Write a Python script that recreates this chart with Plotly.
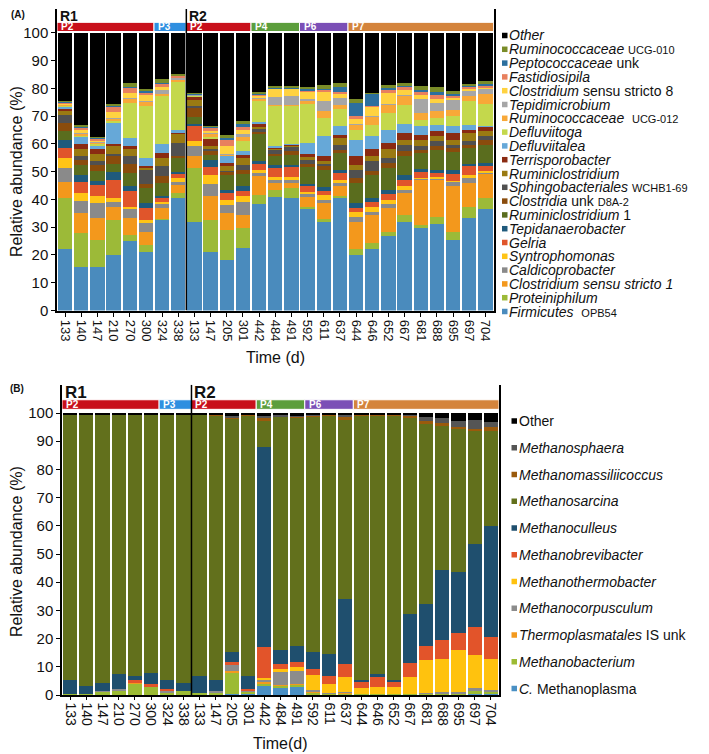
import plotly.graph_objects as go

# ---------------- data ----------------
sample_labels = ["133", "140", "147", "210", "270", "300", "324", "338",
                 "133", "147", "205", "301", "442", "484", "491", "592", "611", "637",
                 "644", "646", "652", "667", "681", "688", "695", "697", "704"]
n_r1 = 8  # samples belonging to reactor R1

phase_names = ["P2", "P3", "P2", "P4", "P6", "P7"]
phase_first = [0, 6, 8, 12, 15, 18]
phase_last = [5, 7, 11, 14, 17, 26]
phase_colors = {"P2": "#c8101a", "P3": "#2f8fe0", "P4": "#5c9e3c", "P6": "#7b4fb6", "P7": "#d4843c"}

# Panel A (bacteria), bottom to top
firmicutes_opb54 = [22.2, 15.6, 15.6, 20.0, 25.2, 21.2, 32.6, 40.5, 32.0, 21.2, 18.2, 22.4, 38.4, 41.0, 40.7, 36.9, 31.7, 40.7, 20.0, 22.1, 26.9, 32.0, 29.6, 31.1, 25.4, 33.3, 36.5]
proteiniphilum = [18.3, 12.3, 9.8, 12.6, 2.0, 2.4, 0.5, 1.8, 19.3, 11.4, 10.8, 7.2, 3.2, 2.5, 3.4, 0.5, 1.2, 0.5, 2.1, 2.2, 1.5, 2.4, 1.2, 2.5, 3.0, 4.1, 4.0]
clostridium_ss1 = [5.9, 7.2, 7.9, 4.8, 6.1, 4.8, 3.7, 3.0, 4.2, 8.5, 6.1, 4.8, 6.7, 2.5, 2.0, 3.5, 5.8, 3.5, 9.9, 10.1, 8.4, 7.9, 16.3, 13.5, 16.3, 8.5, 9.0]
caldicoprobacter = [4.9, 4.2, 5.4, 1.8, 3.2, 3.0, 1.8, 1.0, 3.6, 4.5, 3.0, 4.8, 1.2, 1.0, 1.2, 1.0, 1.2, 1.2, 1.8, 1.2, 1.6, 1.2, 0.5, 0.5, 1.8, 1.8, 0.3]
syntrophomonas = [3.6, 3.0, 2.4, 1.2, 0.9, 1.2, 0.5, 1.5, 1.8, 3.3, 1.8, 1.9, 1.2, 1.0, 0.7, 0.8, 1.8, 1.2, 1.8, 1.8, 1.4, 1.2, 0.3, 0.4, 0.3, 1.2, 0.6]
gelria = [3.6, 4.0, 4.2, 6.7, 5.5, 4.2, 1.5, 1.7, 5.4, 2.7, 2.4, 1.8, 2.4, 3.5, 3.7, 2.0, 1.5, 2.4, 1.5, 1.8, 2.2, 2.4, 2.0, 1.5, 2.4, 3.0, 1.5]
tepidanaerobacter = [3.0, 2.5, 1.5, 2.7, 1.8, 1.8, 0.5, 0.5, 1.0, 2.7, 1.2, 2.0, 0.6, 1.0, 0.8, 1.0, 1.2, 1.2, 1.6, 1.2, 1.5, 1.8, 1.0, 1.2, 1.5, 1.0, 1.2]
ruminiclostridium_1 = [3.0, 3.5, 3.5, 3.0, 5.0, 5.5, 5.0, 5.0, 2.5, 1.8, 5.4, 4.2, 10.0, 3.0, 3.5, 6.0, 6.3, 6.0, 7.2, 8.5, 7.8, 6.6, 6.0, 7.2, 6.5, 5.6, 6.6]
clostridia_d8a2 = [3.0, 2.0, 2.0, 3.0, 3.0, 1.5, 2.5, 0.5, 3.0, 1.4, 1.0, 1.5, 0.5, 1.0, 1.5, 1.0, 1.5, 1.0, 1.8, 1.2, 1.8, 1.8, 1.0, 1.5, 1.2, 1.2, 1.8]
sphingobacteriales = [3.0, 1.5, 1.5, 0.5, 3.0, 5.0, 3.5, 4.8, 1.0, 0.6, 0.5, 1.8, 1.5, 1.5, 1.5, 1.5, 0.5, 1.8, 3.0, 3.6, 1.8, 2.4, 1.2, 1.5, 1.2, 1.2, 1.2]
ruminiclostridium = [1.7, 2.5, 2.5, 3.0, 2.5, 0.8, 3.0, 3.6, 2.0, 1.2, 1.5, 2.5, 0.5, 0.5, 0.5, 1.2, 1.0, 2.6, 1.8, 1.8, 3.2, 1.8, 2.4, 1.8, 1.9, 3.0, 1.8]
terrisporobacter = [0.3, 1.8, 2.0, 0.8, 1.0, 0.7, 1.5, 0.2, 1.2, 2.5, 1.2, 1.2, 0.8, 0.3, 0.2, 1.0, 1.8, 1.2, 3.0, 2.6, 2.2, 2.5, 1.8, 1.8, 2.5, 1.2, 1.8]
defluviitalea = [1.0, 2.4, 1.0, 7.5, 3.0, 3.0, 3.5, 1.0, 0.2, 0.3, 2.6, 1.5, 1.0, 0.3, 0.4, 3.9, 7.2, 3.0, 6.0, 4.6, 4.8, 3.0, 3.2, 2.4, 2.3, 1.7, 0.3]
defluviitoga = [0.3, 0.3, 0.5, 0.5, 12.5, 18.5, 17.5, 17.4, 0.2, 0.5, 0.3, 3.5, 7.3, 14.7, 13.7, 14.0, 6.6, 6.3, 3.6, 4.2, 6.0, 7.1, 2.2, 2.4, 3.6, 8.5, 7.8]
ruminococcaceae_ucg012 = [0.3, 0.8, 0.8, 1.0, 1.5, 1.5, 0.5, 0.5, 0.2, 1.0, 0.3, 1.5, 1.2, 0.2, 0.2, 1.5, 2.4, 1.3, 1.9, 3.0, 3.0, 3.3, 2.4, 2.4, 2.4, 2.0, 3.6]
tepidimicrobium = [0.2, 0.5, 0.3, 0.3, 0.3, 0.5, 1.5, 0.8, 0.1, 0.4, 0.2, 0.8, 0.3, 3.0, 3.3, 0.3, 3.6, 2.5, 0.3, 0.2, 0.2, 0.2, 5.0, 3.0, 3.6, 2.0, 1.8]
clostridium_ss8 = [0.2, 1.0, 0.5, 2.2, 2.0, 2.0, 1.0, 0.3, 0.1, 0.8, 2.6, 1.5, 0.5, 2.8, 2.5, 2.5, 3.5, 1.8, 1.7, 3.4, 4.2, 2.0, 1.5, 1.5, 0.5, 0.5, 0.3]
fastidiosipila = [0.4, 0.8, 0.5, 2.0, 1.7, 1.0, 1.0, 0.5, 0.1, 1.0, 2.4, 1.2, 0.5, 0.2, 0.3, 0.8, 0.8, 0.5, 0.9, 0.3, 1.2, 1.0, 1.0, 1.5, 1.0, 0.8, 1.0]
peptococcaceae_unk = [0.3, 0.4, 0.3, 0.4, 0.3, 0.4, 0.5, 0.2, 0.1, 0.3, 0.8, 1.2, 0.3, 0.2, 0.3, 0.3, 0.3, 1.8, 4.8, 4.2, 0.6, 0.4, 1.0, 1.0, 0.6, 0.3, 0.4]
ruminococcaceae_ucg010 = [0.2, 0.4, 0.4, 0.4, 1.5, 0.8, 1.4, 0.5, 0.3, 0.5, 1.0, 0.8, 0.6, 0.5, 0.6, 0.8, 1.4, 1.5, 1.5, 0.4, 1.0, 1.0, 1.4, 1.8, 1.0, 0.7, 1.0]
other_a = [24.6, 33.3, 37.4, 25.6, 18.0, 20.2, 16.5, 14.7, 21.7, 33.4, 36.7, 31.9, 21.3, 19.3, 19.0, 19.5, 18.7, 18.0, 23.8, 21.6, 18.7, 18.0, 19.0, 19.5, 21.0, 18.4, 17.5]

# Panel B (archaea), bottom to top
c_methanoplasma = [0, 0, 0, 0, 0, 0, 0, 0, 0, 0, 0.5, 0.2, 3.2, 2.5, 2.8, 0.3, 0.2, 0.2, 0, 0, 0, 0, 0.2, 0.2, 0.2, 0.3, 0.3]
methanobacterium = [0.5, 0.5, 1.2, 1.5, 4.0, 3.0, 1.0, 1.5, 0.8, 0.8, 7.7, 1.2, 1.0, 0.8, 1.0, 0.5, 0.3, 0.5, 0.2, 0.2, 0.2, 0.4, 0.3, 0.5, 0.5, 1.2, 1.0]
thermoplasmatales_is = [0, 0, 0, 0, 0.3, 0.2, 0, 0, 0, 0, 0.2, 0, 0.6, 0.2, 0.2, 0.2, 0, 0.2, 0, 0, 0, 0, 0, 0, 0, 0, 0]
methanocorpusculum = [0, 0, 0.3, 0.8, 0, 0, 0.5, 0, 0, 0.6, 2.2, 0.3, 0.6, 4.5, 4.5, 0.8, 0.1, 0.3, 0, 0, 0, 0, 0.3, 0.5, 0.5, 0.9, 0.5]
methanothermobacter = [0, 0, 0, 0, 0, 0, 0, 0, 0, 0, 0, 0, 0.5, 1.2, 1.6, 5.3, 3.3, 5.3, 2.2, 2.8, 2.8, 6.0, 11.5, 11.4, 14.8, 11.8, 10.9]
methanobrevibacter = [0, 0, 0, 0, 1.0, 0.6, 0.6, 0, 0, 0, 1.2, 0.6, 11.0, 1.7, 1.6, 2.0, 3.0, 4.5, 2.3, 3.5, 1.8, 5.1, 5.2, 6.9, 6.1, 9.8, 7.7]
methanoculleus = [4.8, 2.8, 2.7, 5.3, 1.6, 4.1, 3.1, 2.7, 6.1, 3.9, 3.3, 4.5, 70.9, 5.2, 5.6, 6.3, 7.7, 22.9, 0.6, 0.9, 0.5, 17.1, 14.7, 24.8, 21.5, 29.5, 39.5]
methanosarcina = [94.2, 96.2, 95.3, 91.9, 92.5, 91.6, 94.3, 95.3, 92.6, 94.0, 83.0, 92.5, 9.7, 82.6, 81.2, 83.5, 84.6, 63.7, 93.9, 91.8, 93.9, 70.0, 64.3, 51.5, 51.0, 40.2, 33.8]
methanomassiliicoccus = [0.2, 0.2, 0.2, 0.2, 0.2, 0.2, 0.2, 0.2, 0.2, 0.3, 0.5, 0.2, 0.7, 0.3, 0.3, 0.4, 0.2, 1.4, 0.3, 0.2, 0.3, 0.5, 0.6, 0.6, 0.6, 0.7, 1.2]
methanosphaera = [0, 0, 0, 0, 0, 0, 0, 0, 0, 0, 0.2, 0, 0.8, 0.2, 0.2, 0.1, 0.1, 0.2, 0.1, 0.1, 0.1, 0.3, 1.4, 1.8, 1.8, 3.2, 1.9]
other_b = [0.3, 0.3, 0.3, 0.3, 0.4, 0.3, 0.3, 0.3, 0.3, 0.4, 1.2, 0.5, 1.0, 0.8, 1.0, 0.6, 0.5, 0.8, 0.4, 0.5, 0.4, 0.6, 1.5, 1.8, 3.0, 2.4, 3.2]

series_a = [
    ("<i>Firmicutes</i>  <span style='font-size:11px'>OPB54</span>", "#4a8bbd", firmicutes_opb54),
    ("<i>Proteiniphilum</i>", "#9cba38", proteiniphilum),
    ("<i>Clostridium sensu stricto 1</i>", "#f3981c", clostridium_ss1),
    ("<i>Caldicoprobacter</i>", "#8a8a8a", caldicoprobacter),
    ("<i>Syntrophomonas</i>", "#ffc416", syntrophomonas),
    ("<i>Gelria</i>", "#e0552b", gelria),
    ("<i>Tepidanaerobacter</i>", "#1f5a7c", tepidanaerobacter),
    ("<i>Ruminiclostridium</i> 1", "#5a6d1e", ruminiclostridium_1),
    ("<i>Clostridia</i> unk <span style='font-size:11px'>D8A-2</span>", "#8a4c0c", clostridia_d8a2),
    ("<i>Sphingobacteriales</i> <span style='font-size:11px'>WCHB1-69</span>", "#505050", sphingobacteriales),
    ("<i>Ruminiclostridium</i>", "#9a7a12", ruminiclostridium),
    ("<i>Terrisporobacter</i>", "#8a2b12", terrisporobacter),
    ("<i>Defluviitalea</i>", "#66a8d8", defluviitalea),
    ("<i>Defluviitoga</i>", "#c4d84c", defluviitoga),
    ("<i>Ruminococcaceae</i>  <span style='font-size:11px'>UCG-012</span>", "#f8a838", ruminococcaceae_ucg012),
    ("<i>Tepidimicrobium</i>", "#a6a6a6", tepidimicrobium),
    ("<i>Clostridium</i> sensu stricto 8", "#ffd240", clostridium_ss8),
    ("<i>Fastidiosipila</i>", "#e8805e", fastidiosipila),
    ("<i>Peptococcaceae</i> unk", "#2c6f9e", peptococcaceae_unk),
    ("<i>Ruminococcaceae</i> <span style='font-size:11px'>UCG-010</span>", "#7a8c28", ruminococcaceae_ucg010),
    ("<i>Other</i>", "#000000", other_a),
]

series_b = [
    ("<i>C.</i> Methanoplasma", "#4a90c4", c_methanoplasma),
    ("<i>Methanobacterium</i>", "#9cbb34", methanobacterium),
    ("<i>Thermoplasmatales</i> IS unk", "#f39a1e", thermoplasmatales_is),
    ("<i>Methanocorpusculum</i>", "#8c8c8c", methanocorpusculum),
    ("<i>Methanothermobacter</i>", "#ffc20e", methanothermobacter),
    ("<i>Methanobrevibacter</i>", "#e2542a", methanobrevibacter),
    ("<i>Methanoculleus</i>", "#1f4f6e", methanoculleus),
    ("<i>Methanosarcina</i>", "#62701c", methanosarcina),
    ("<i>Methanomassiliicoccus</i>", "#9a5a0c", methanomassiliicoccus),
    ("<i>Methanosphaera</i>", "#555555", methanosphaera),
    ("Other", "#000000", other_b),
]

# ---------------- geometry helpers (page pixels -> paper) ----------------
OFF = 8                      # default body margin of the html page
W, H = 709 - OFF, 754 - OFF  # figure size
ML, MR, MT, MB = 49, 210, 1, 59
PW, PH = W - ML - MR, H - MT - MB


def fx(px):
    return (px - OFF - ML) / PW


def fy(py):
    return (H - MB - (py - OFF)) / PH


FONT = "Liberation Sans, Arial, Helvetica, sans-serif"
xs = list(range(len(sample_labels)))

fig = go.Figure()
for name, color, vals in series_a:
    fig.add_trace(go.Bar(x=xs, y=vals, name=name, marker=dict(color=color, line=dict(width=0)),
                         xaxis="x", yaxis="y", showlegend=False))
for name, color, vals in series_b:
    fig.add_trace(go.Bar(x=xs, y=vals, name=name, marker=dict(color=color, line=dict(width=0)),
                         xaxis="x2", yaxis="y2", showlegend=False))

axis_common = dict(showgrid=False, zeroline=False, showline=True, linecolor="black", linewidth=1.5,
                   ticks="outside", tickcolor="black", tickwidth=1.2)
xcommon = dict(axis_common, range=[-0.5, len(xs) - 0.5], tickvals=xs, ticktext=sample_labels,
               tickangle=90)
ycommon = dict(axis_common, tickvals=list(range(0, 101, 10)), ticklen=4, mirror=True,
               tickfont=dict(size=15, color="#111", family=FONT))

YTOP_A = 108.6
YTOP_B = 110
fig.update_layout(
    width=W, height=H, margin=dict(l=ML, r=MR, t=MT, b=MB),
    paper_bgcolor="white", plot_bgcolor="white",
    barmode="stack", bargap=0.12,
    font=dict(family=FONT, color="#111"),
    xaxis=dict(xcommon, domain=[0, fx(493.5)], anchor="y", ticklen=5,
               tickfont=dict(size=13, color="#111", family=FONT)),
    yaxis=dict(ycommon, range=[0, YTOP_A], domain=[fy(310.5), 1], anchor="x"),
    xaxis2=dict(xcommon, domain=[fx(62), 1], anchor="y2", ticklen=3,
                tickfont=dict(size=14, color="#111", family=FONT)),
    yaxis2=dict(ycommon, range=[0, YTOP_B], domain=[0, fy(384.8)], anchor="x2"),
)

shapes = []
annotations = []

# phase bars, reactor labels and R1/R2 divider for both panels
panel_specs = [
    ("x", "y", 100.5, 103.8, YTOP_A, 14, -4),
    ("x2", "y2", 101.3, 104.7, YTOP_B, 17, -4),
]
for xa, ya, pbot, ptop, ytop, rsize, rshift in panel_specs:
    for pname, a, b in zip(phase_names, phase_first, phase_last):
        shapes.append(dict(type="rect", xref=xa, yref=ya, x0=a - 0.5, x1=b + 0.5, y0=pbot, y1=ptop,
                           fillcolor=phase_colors[pname], line=dict(color="white", width=1), layer="above"))
        annotations.append(dict(xref=xa, yref=ya, x=a - 0.5, y=(pbot + ptop) / 2, text="<b>%s</b>" % pname,
                                xanchor="left", yanchor="middle", xshift=2, showarrow=False,
                                font=dict(size=10, color="white", family=FONT)))
    shapes.append(dict(type="line", xref=xa, yref=ya, x0=n_r1 - 0.5, x1=n_r1 - 0.5, y0=0, y1=ytop,
                       line=dict(color="black", width=1.5), layer="above"))
    for lab, xpos in [("R1", -0.5), ("R2", n_r1 - 0.5)]:
        annotations.append(dict(xref=xa, yref=ya, x=xpos, y=ptop, text="<b>%s</b>" % lab, xanchor="left",
                                yanchor="bottom", xshift=1, yshift=rshift, showarrow=False,
                                font=dict(size=rsize, color="#111", family=FONT)))

# panel letters
annotations.append(dict(xref="paper", yref="paper", x=fx(9), y=fy(15), text="<b>(A)</b>", xanchor="left",
                        yanchor="middle", showarrow=False, font=dict(size=10, family=FONT)))
annotations.append(dict(xref="paper", yref="paper", x=fx(8), y=fy(388), text="<b>(B)</b>", xanchor="left",
                        yanchor="middle", showarrow=False, font=dict(size=10, family=FONT)))

# axis titles
annotations.append(dict(xref="paper", yref="paper", x=fx(16), y=fy(172), text="Relative abundance (%)",
                        textangle=-90, xanchor="center", yanchor="middle", showarrow=False,
                        font=dict(size=16, family=FONT)))
annotations.append(dict(xref="paper", yref="paper", x=fx(16), y=fy(552), text="Relative abundance (%)",
                        textangle=-90, xanchor="center", yanchor="middle", showarrow=False,
                        font=dict(size=16, family=FONT)))
annotations.append(dict(xref="paper", yref="paper", x=fx(275), y=fy(357), text="Time (d)",
                        xanchor="center", yanchor="middle", showarrow=False, font=dict(size=16, family=FONT)))
annotations.append(dict(xref="paper", yref="paper", x=fx(280), y=fy(743), text="Time(d)",
                        xanchor="center", yanchor="middle", showarrow=False, font=dict(size=16, family=FONT)))


# manual legends (top item = last series)
def add_legend(series, top_py, step, sq_x, sq_size, text_x, fsize):
    for i, (name, color, _) in enumerate(reversed(series)):
        cy = top_py + i * step
        shapes.append(dict(type="rect", xref="paper", yref="paper", x0=fx(sq_x), x1=fx(sq_x + sq_size),
                           y0=fy(cy + sq_size / 2), y1=fy(cy - sq_size / 2), fillcolor=color,
                           line=dict(width=0)))
        annotations.append(dict(xref="paper", yref="paper", x=fx(text_x), y=fy(cy), text=name,
                                xanchor="left", yanchor="middle", showarrow=False,
                                font=dict(size=fsize, color="#111", family=FONT)))


add_legend(series_a, 35.5, 13.8, 502, 5.5, 507, 14)
add_legend(series_b, 421, 26.75, 511.5, 5.5, 517, 14)

fig.update_layout(shapes=shapes, annotations=annotations)
fig.write_html("out.html")
